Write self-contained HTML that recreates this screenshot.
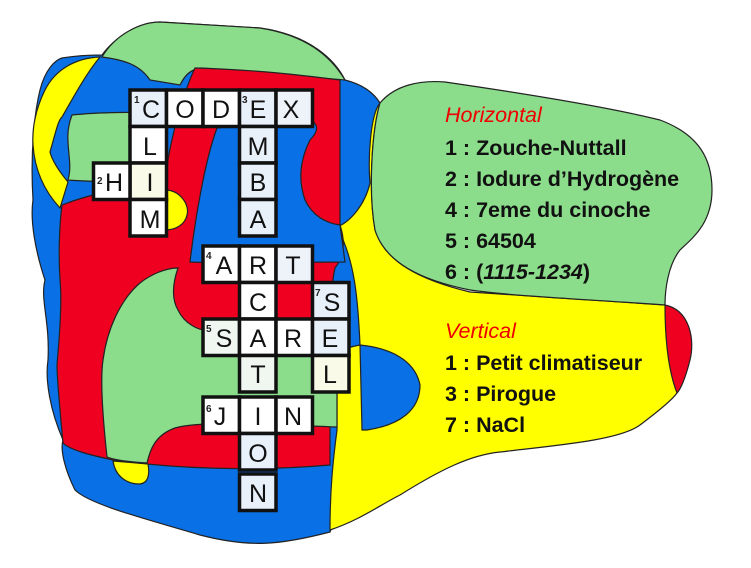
<!DOCTYPE html>
<html><head><meta charset="utf-8"><style>
html,body{margin:0;padding:0;background:#fff;width:751px;height:568px;overflow:hidden}
svg{display:block}
.l{font-family:"Liberation Sans",sans-serif;font-size:25px;fill:#111;text-anchor:middle}
.n{font-family:"Liberation Sans",sans-serif;font-size:10px;font-weight:bold;fill:#222}
.t{font-family:"Liberation Sans",sans-serif;font-size:21.5px;font-weight:bold;fill:#111}
.h{font-family:"Liberation Sans",sans-serif;font-size:21.5px;font-style:italic;fill:#e00}
</style></head><body>
<svg width="751" height="568" viewBox="0 0 751 568" xmlns="http://www.w3.org/2000/svg">
<g stroke="#222" stroke-width="1.2">
<path fill="#0a70e6" d="M62,58 C80,55 95,55 102,55 C120,30 150,22 160,22 L260,28 C310,35 335,60 345,80 C365,85 375,95 380,103 L375,260 L367,440 L330,532 C280,545 250,548 200,535 C150,520 90,505 75,490 C65,470 60,450 63,440 C50,410 45,380 48,360 C50,320 40,300 45,280 C35,250 30,220 33,200 C30,150 35,110 40,90 C45,70 55,60 62,58 Z"/>
<path fill="#ffff00" d="M337,227 C355,260 358,300 360,345 C345,348 337,350 337,360 L337,430 C333,460 330,490 330,530 C360,520 380,505 400,495 C440,470 470,455 500,452 C560,445 620,440 640,425 C660,410 672,400 677,393 C690,370 690,320 665,305 L470,292 C420,280 385,262 375,230 C368,190 372,130 380,103 C370,115 368,160 370,183 C365,205 350,222 337,227 Z"/>
<path fill="#0a70e6" d="M360,345 C390,348 415,360 420,385 C420,410 400,425 367,430 L362,430 Z"/>
<path fill="#8bdc8b" d="M380,103 C395,85 420,80 445,82 C500,90 600,105 660,120 C700,135 712,160 712,190 C712,225 690,240 680,250 C668,265 665,290 665,305 C600,300 520,297 470,290 C420,280 385,262 375,230 C368,190 372,130 380,103 Z"/>
<path fill="#f00020" d="M665,305 C690,310 695,340 690,360 C685,380 680,390 677,393 C668,370 665,340 665,305 Z"/>
<path fill="#8bdc8b" d="M102,57 C115,35 140,22 160,22 L260,28 C305,35 330,55 345,80 C320,78 260,72 200,68 C190,70 185,75 180,85 L150,80 C140,65 125,60 102,57 Z"/>
<path fill="#f00020" d="M195,68 C260,70 300,75 340,80 L340,225 C345,240 345,255 335,268 C330,290 332,320 330,340 L330,465 C250,472 170,468 113,460 C90,455 70,450 63,443 C60,410 57,380 57,365 C60,330 62,300 60,280 C58,250 60,220 62,205 C100,190 140,186 165,182 C168,150 180,100 195,68 Z"/>
<path fill="#0a70e6" d="M217,128 L300,118 C320,120 320,130 310,140 C300,160 298,180 305,200 C312,215 325,223 340,225 L345,262 C300,262 240,264 190,262 C195,220 205,160 217,128 Z"/>
<path fill="#8bdc8b" d="M72,115 C100,112 140,112 160,113 L165,182 C130,182 95,182 68,180 C74,160 62,140 72,115 Z"/>
<path fill="#ffff00" d="M100,57 C75,58 55,70 45,90 C35,110 32,130 33,145 C35,175 48,195 60,208 L68,182 C58,170 52,160 50,152 C55,135 58,120 62,117 C72,100 85,75 100,57 Z"/>
<path fill="#ffff00" d="M165,190 C180,190 190,205 187,215 C185,225 175,230 165,230 Z"/>
<path fill="#8bdc8b" d="M140,283 C150,275 165,268 178,268 C172,285 172,300 178,310 C185,325 200,330 205,330 L337,345 L337,427 C280,425 200,420 175,428 C155,435 150,450 147,463 C130,462 115,460 107,457 C103,420 100,380 103,360 C107,330 120,300 140,283 Z"/>
<path fill="#ffff00" d="M113,461 L148,464 C150,475 148,483 140,484 C125,484 115,475 113,461 Z"/>
</g>
<g fill="#fff" stroke="#111" stroke-width="3.5">
<rect x="130" y="90" width="36.5" height="36.5" fill="#e8f0fa"/>
<rect x="166.5" y="90" width="36.5" height="36.5"/>
<rect x="203" y="90" width="36.5" height="36.5"/>
<rect x="239.5" y="90" width="36.5" height="36.5" fill="#e8f0fa"/>
<rect x="276" y="90" width="36.5" height="36.5" fill="#eef3fa"/>
<rect x="130" y="126.5" width="36.5" height="36.5"/>
<rect x="130" y="163" width="36.5" height="36.5" fill="#fafae8"/>
<rect x="93.5" y="163" width="36.5" height="36.5"/>
<rect x="130" y="199.5" width="36.5" height="36.5"/>
<rect x="239.5" y="126.5" width="36.5" height="36.5" fill="#e8f0fa"/>
<rect x="239.5" y="163" width="36.5" height="36.5" fill="#e8f0fa"/>
<rect x="239.5" y="199.5" width="36.5" height="36.5" fill="#e8f0fa"/>
<rect x="203" y="246" width="36.5" height="36.5"/>
<rect x="239.5" y="246" width="36.5" height="36.5"/>
<rect x="276" y="246" width="36.5" height="36.5" fill="#eef3fa"/>
<rect x="239.5" y="282.5" width="36.5" height="36.5"/>
<rect x="312.5" y="282.5" width="36.5" height="36.5" fill="#e8f0fa"/>
<rect x="203" y="319" width="36.5" height="36.5" fill="#f0f6f0"/>
<rect x="239.5" y="319" width="36.5" height="36.5"/>
<rect x="276" y="319" width="36.5" height="36.5"/>
<rect x="312.5" y="319" width="36.5" height="36.5" fill="#e8f0fa"/>
<rect x="239.5" y="355.5" width="36.5" height="36.5" fill="#f0f6f0"/>
<rect x="312.5" y="355.5" width="36.5" height="36.5" fill="#fafae8"/>
<rect x="203" y="397" width="36.5" height="36.5"/>
<rect x="239.5" y="397" width="36.5" height="36.5"/>
<rect x="276" y="397" width="36.5" height="36.5"/>
<rect x="239.5" y="433.5" width="36.5" height="36.5" fill="#e8f0fa"/>
<rect x="239.5" y="474" width="36.5" height="36.5" fill="#e8f0fa"/>
</g>
<g class="l">
<text x="151" y="118">C</text><text x="185" y="118">O</text><text x="221" y="118">D</text><text x="258" y="118">E</text><text x="291" y="118">X</text>
<text x="150" y="155">L</text><text x="150" y="191">I</text><text x="114" y="191">H</text><text x="150" y="228">M</text>
<text x="258" y="155">M</text><text x="258" y="191">B</text><text x="258" y="228">A</text>
<text x="224" y="274">A</text><text x="258" y="274">R</text><text x="293" y="274">T</text>
<text x="258" y="311">C</text><text x="332" y="311">S</text>
<text x="224" y="347">S</text><text x="258" y="347">A</text><text x="293" y="347">R</text><text x="330" y="347">E</text>
<text x="258" y="383">T</text><text x="330" y="383">L</text>
<text x="220" y="425">J</text><text x="258" y="425">I</text><text x="293" y="425">N</text>
<text x="258" y="462">O</text><text x="258" y="502">N</text>
</g>
<g class="n">
<text x="134" y="103">1</text><text x="242" y="103">3</text><text x="97" y="184">2</text>
<text x="206" y="259">4</text><text x="315" y="296">7</text><text x="206" y="332">5</text><text x="206" y="412">6</text>
</g>
<text class="h" x="445" y="122">Horizontal</text>
<text class="t" x="445" y="155">1 : Zouche-Nuttall</text>
<text class="t" x="445" y="186">2 : Iodure d’Hydrogène</text>
<text class="t" x="445" y="217">4 : 7eme du cinoche</text>
<text class="t" x="445" y="248">5 : 64504</text>
<text class="t" x="445" y="279">6 : (<tspan font-style="italic">1115-1234</tspan>)</text>
<text class="h" x="445" y="338">Vertical</text>
<text class="t" x="445" y="370">1 : Petit climatiseur</text>
<text class="t" x="445" y="401">3 : Pirogue</text>
<text class="t" x="445" y="432">7 : NaCl</text>
</svg>
</body></html>
